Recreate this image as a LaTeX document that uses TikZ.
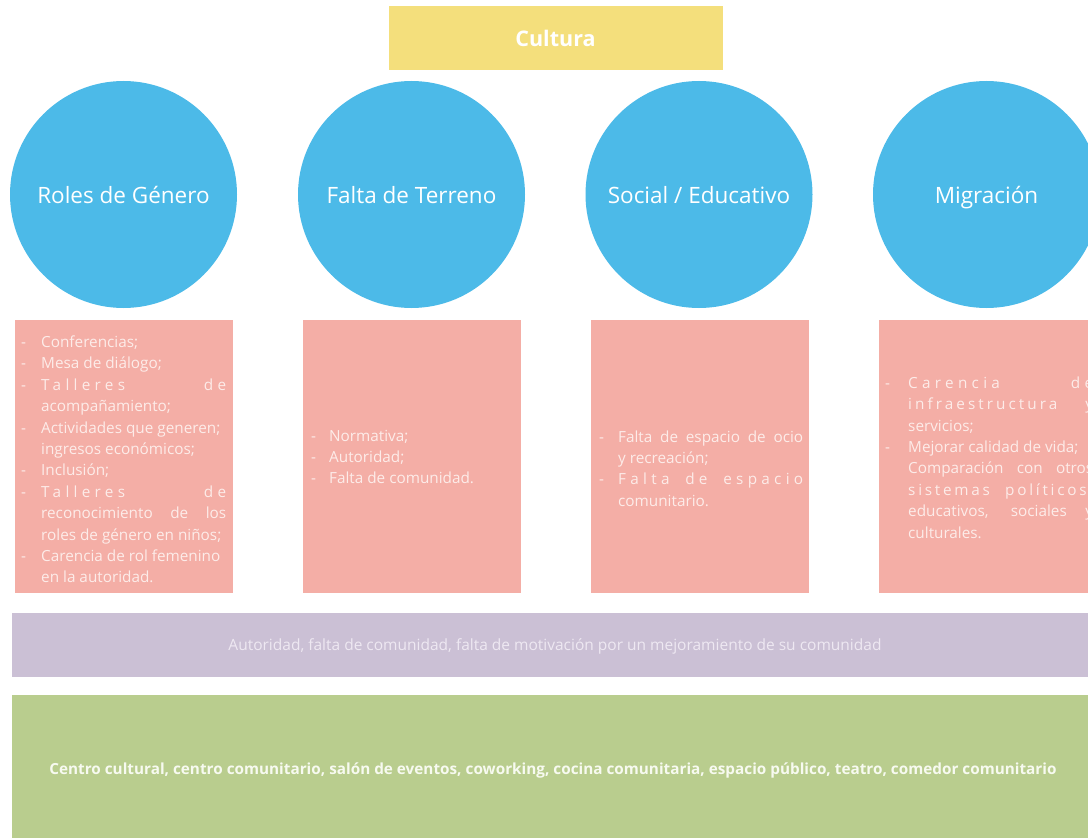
\documentclass[tikz,border=0pt]{standalone}
\usepackage{fontspec}
\setmainfont{Open Sans}
\definecolor{cyellow}{HTML}{F4DF7C}
\definecolor{cblue}{HTML}{4CBAE8}
\definecolor{cpink}{HTML}{F4AEA6}
\definecolor{cpurple}{HTML}{CBC0D5}
\definecolor{cgreen}{HTML}{B9CD8E}
\definecolor{tpink}{HTML}{FDECE9}
\definecolor{tpurple}{HTML}{EEE8F2}
\definecolor{tgreen}{HTML}{F7FAF0}
\newcommand\itm[2][20pt]{\makebox[#1][l]{-}#2}
\newcommand\cnt[2][20pt]{\hspace*{#1}#2}
\newcommand\jst[1]{\makebox[185pt][s]{#1}}
\newcommand\trk[2]{{\addfontfeature{LetterSpace=#1}#2}}
\tikzset{
  head/.style={fill=cyellow, minimum width=334pt, minimum height=64pt, inner sep=0pt,
    text=white, font=\fontsize{21.5}{25}\selectfont\bfseries},
  topic/.style={circle, fill=cblue, minimum size=227pt, inner sep=0pt,
    text=white, text height=24pt, text depth=5pt, font=\fontsize{22.5}{27}\selectfont},
  panel/.style={fill=cpink, minimum width=218pt, minimum height=273pt, inner sep=0pt, anchor=north west},
  ptext/.style={anchor=west, align=left, inner sep=0pt, text=tpink, font=\fontsize{15.3}{21.4}\selectfont},
  bar/.style={minimum width=1086pt, inner sep=0pt, anchor=north west}
}
\begin{document}
\begin{tikzpicture}[x=1pt,y=-1pt]
\useasboundingbox (0,0) rectangle (1088,840);
\fill[white] (0,0) rectangle (1088,840);
\node[head] (cultura) at (555.5,38) {Cultura};
\node[topic] (c1) at (123.5,194.5) {Roles de Género};
\node[topic] (c2) at (411.5,194.5) {Falta de Terreno};
\node[topic] (c3) at (699,194.5) {Social / Educativo};
\node[topic] (c4) at (986.5,194.5) {Migración};
\node[panel] (p1) at (15,320) {};
\node[panel] (p2) at (303,320) {};
\node[panel] (p3) at (591,320) {};
\node[panel] (p4) at (879,320) {};
\node[ptext] (t1) at (21,459.5) {%
\itm{Conferencias;}\\
\itm{Mesa de diálogo;}\\
\itm{\jst{\trk{28}{Talleres} \trk{28}{de}}}\\
\cnt{acompañamiento;}\\
\itm{Actividades que generen;}\\
\cnt{ingresos económicos;}\\
\itm{Inclusión;}\\
\itm{\jst{\trk{28}{Talleres} \trk{28}{de}}}\\
\cnt{\jst{reconocimiento de los}}\\
\cnt{roles de género en niños;}\\
\itm{Carencia de rol femenino}\\
\cnt{en la autoridad.}};
\node[ptext] (t2) at (311,457) {%
\itm[18pt]{Normativa;}\\
\itm[18pt]{Autoridad;}\\
\itm[18pt]{Falta de comunidad.}};
\node[ptext] (t3) at (599,468.5) {%
\itm[19pt]{\jst{Falta de espacio de ocio}}\\
\cnt[19pt]{y recreación;}\\
\itm[19pt]{\jst{\trk{28}{Falta} \trk{28}{de} \trk{28}{espacio}}}\\
\cnt[19pt]{comunitario.}};
\node[ptext] (t4) at (885,457.5) {%
\itm[23pt]{\jst{\trk{28}{Carencia} \trk{28}{de}}}\\
\cnt[23pt]{\jst{\trk{20}{infraestructura} \trk{20}{y}}}\\
\cnt[23pt]{servicios;}\\
\itm[23pt]{Mejorar calidad de vida;}\\
\cnt[23pt]{\jst{Comparación con otros}}\\
\cnt[23pt]{\jst{\trk{18}{sistemas} \trk{18}{políticos,}}}\\
\cnt[23pt]{\jst{educativos, sociales y}}\\
\cnt[23pt]{culturales.}};
\node[bar, fill=cpurple, minimum height=64pt] (b1) at (12,613) {};
\node[text=tpurple, font=\fontsize{15.5}{18}\selectfont] (b1t) at (555,646) {Autoridad, falta de comunidad, falta de motivación por un mejoramiento de su comunidad};
\node[bar, fill=cgreen, minimum height=143pt] (b2) at (12,695) {};
\node[text=tgreen, font=\fontsize{15.3}{18}\selectfont\bfseries] (b2t) at (553,770) {Centro cultural, centro comunitario, salón de eventos, coworking, cocina comunitaria, espacio público, teatro, comedor comunitario};
\end{tikzpicture}
\end{document}
